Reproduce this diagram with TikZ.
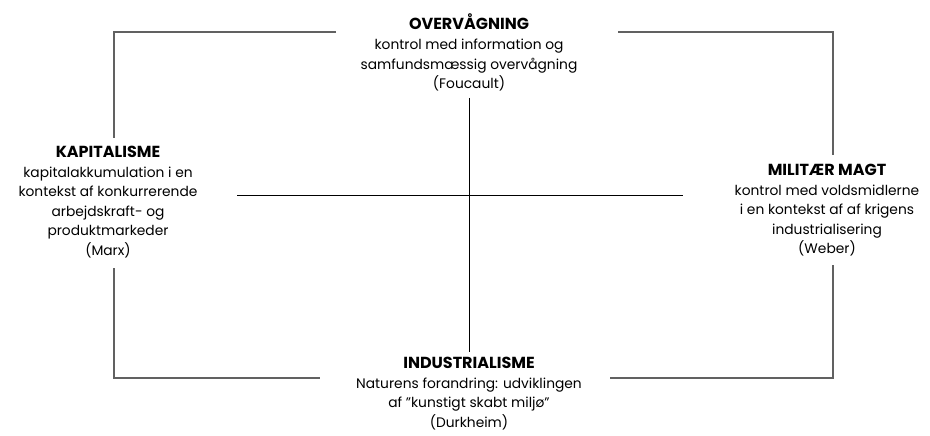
\documentclass[tikz,border=0pt]{standalone}
\usepackage{fontspec}
\setmainfont{Poppins}
\newcommand{\ttl}[1]{{\fontsize{16}{19.6}\selectfont\textbf{#1}}}
\begin{document}
\begin{tikzpicture}[x=1pt,y=-1pt,
  lbl/.style={align=center,inner sep=0pt,anchor=north,font=\fontsize{13.8}{19.6}\selectfont},
  bracket/.style={draw=black!62,line width=1.6pt},
  crossline/.style={draw=black,line width=0.9pt}]
\useasboundingbox (0,0) rectangle (930,436);
\node[lbl] (ov) at (469,14) {\ttl{OVERVÅGNING}\\kontrol med information og\\samfundsmæssig overvågning\\(Foucault)};
\node[lbl] (kap) at (108,146) {\ttl{KAPITALISME}\\kapitalakkumulation i en\\kontekst af konkurrerende\\arbejdskraft- og\\produktmarkeder\\(Marx)};
\node[lbl] (mil) at (827,164) {\ttl{MILITÆR MAGT}\\kontrol med voldsmidlerne\\i en kontekst af af krigens\\industrialisering\\(Weber)};
\node[lbl] (ind) at (469,357) {\ttl{INDUSTRIALISME}\\Naturens forandring: udviklingen\\af ”kunstigt skabt miljø”\\(Durkheim)};
% cross
\coordinate (ct) at (469,98);
\coordinate (cb) at (469,352);
\coordinate (cl) at (237,195);
\coordinate (cr) at (683,195);
\draw[crossline] (ct) -- (cb);
\draw[crossline] (cl) -- (cr);
% brackets
\coordinate (tl1) at (336,32);
\coordinate (tl2) at (114,32);
\coordinate (tl3) at (114,138);
\draw[bracket] (tl1) -- (tl2) -- (tl3);
\coordinate (tr1) at (618,32);
\coordinate (tr2) at (833,32);
\coordinate (tr3) at (833,155);
\draw[bracket] (tr1) -- (tr2) -- (tr3);
\coordinate (bl1) at (114,268);
\coordinate (bl2) at (114,378);
\coordinate (bl3) at (320,378);
\draw[bracket] (bl1) -- (bl2) -- (bl3);
\coordinate (br1) at (610,378);
\coordinate (br2) at (833,378);
\coordinate (br3) at (833,265);
\draw[bracket] (br1) -- (br2) -- (br3);
\end{tikzpicture}
\end{document}
